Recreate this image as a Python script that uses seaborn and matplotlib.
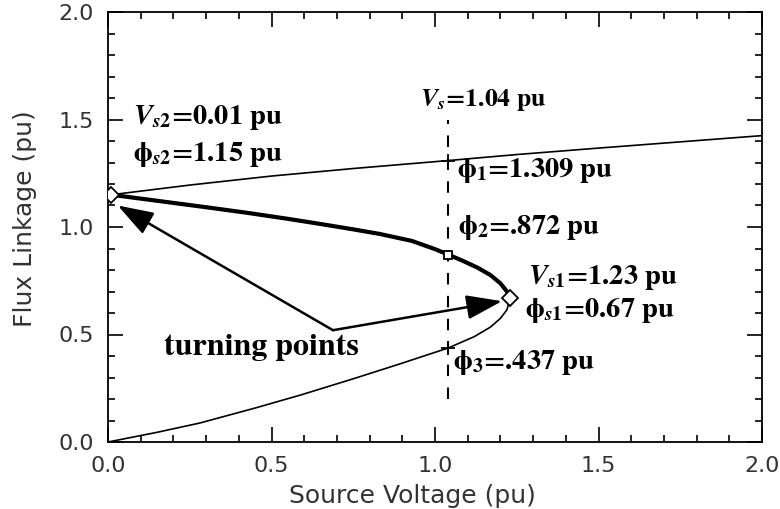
import matplotlib
matplotlib.use("Agg")
import matplotlib.pyplot as plt
from matplotlib.patches import FancyArrowPatch
from matplotlib.ticker import MultipleLocator
import seaborn as sns

# Upper (high-flux) branch
upper_v = [0.01, 0.25, 0.50, 0.75, 1.04, 1.25, 1.50, 1.75, 2.00]
upper_phi = [1.15, 1.195, 1.237, 1.272, 1.309, 1.337, 1.367, 1.396, 1.425]

# Middle (unstable) branch between the two turning points
middle_v = [0.01, 0.10, 0.20, 0.30, 0.43, 0.55, 0.65, 0.75, 0.83, 0.93,
            1.00, 1.04, 1.08, 1.13, 1.17, 1.20, 1.22, 1.23]
middle_phi = [1.15, 1.132, 1.112, 1.092, 1.065, 1.038, 1.014, 0.989, 0.968, 0.935,
              0.897, 0.872, 0.846, 0.811, 0.776, 0.738, 0.700, 0.670]

# Lower (normal operation) branch
lower_v = [0.00, 0.15, 0.28, 0.45, 0.59, 0.75, 0.89, 1.04, 1.12, 1.17, 1.20, 1.22, 1.23]
lower_phi = [0.00, 0.045, 0.088, 0.158, 0.219, 0.294, 0.362, 0.437, 0.490, 0.535,
             0.575, 0.615, 0.670]

# Operating point and turning points
vs_op = 1.04
phi_op = [1.309, 0.872, 0.437]
turn_v = [0.01, 1.23]
turn_phi = [1.15, 0.67]

x_ticks = [0.0, 0.5, 1.0, 1.5, 2.0]
x_tick_labels = ["0.0", "0.5", "1.0", "1.5", "2.0"]
y_ticks = [0.0, 0.5, 1.0, 1.5, 2.0]
y_tick_labels = ["0.0", "0.5", "1.0", "1.5", "2.0"]

sns.set_style("ticks")
plt.rcParams["font.family"] = ["DejaVu Sans"]
plt.rcParams["mathtext.fontset"] = "custom"
plt.rcParams["mathtext.rm"] = "STIXGeneral:bold"
plt.rcParams["mathtext.it"] = "STIXGeneral:italic:bold"
plt.rcParams["mathtext.bf"] = "STIXGeneral:bold"

fig = plt.figure(figsize=(7.8, 5.09), dpi=100)
ax = fig.add_axes([108 / 780, 1 - 442 / 509, (762 - 108) / 780, (442 - 12) / 509])

ink = "black"
sns.lineplot(x=upper_v, y=upper_phi, sort=False, estimator=None, ax=ax,
             color=ink, linewidth=1.2)
sns.lineplot(x=middle_v, y=middle_phi, sort=False, estimator=None, ax=ax,
             color=ink, linewidth=3.0)
sns.lineplot(x=lower_v, y=lower_phi, sort=False, estimator=None, ax=ax,
             color=ink, linewidth=1.2)

# Vertical dashed line at the source voltage of interest
ax.vlines(vs_op, 0.2, 1.5, colors=ink, linewidth=1.5, linestyles=(0, (5.5, 5.5)))

# Markers for the three solutions and the turning points
sns.scatterplot(x=[vs_op, vs_op], y=[phi_op[0], phi_op[2]], marker="+", s=110,
                color=ink, linewidth=1.3, ax=ax, zorder=5)
ax.plot([vs_op], [phi_op[1]], marker="s", ms=6, mfc="white", mec=ink, mew=1.3,
        ls="none", zorder=6)
ax.plot(turn_v, turn_phi, marker="D", ms=8, mfc="white", mec=ink, mew=1.3,
        ls="none", zorder=6)

# Arrows from the label to both turning points
for tip in [(0.03, 1.10), (1.205, 0.655)]:
    arr = FancyArrowPatch((0.688, 0.52), tip,
                          arrowstyle="-|>,head_length=2.2,head_width=0.75",
                          mutation_scale=10, color=ink, linewidth=1.8,
                          shrinkA=0, shrinkB=0, zorder=4)
    ax.add_patch(arr)

serif = dict(family="STIXGeneral", weight="bold", color=ink, va="center", ha="left")
ax.text(0.077, 1.51, r"$V_{s2}$=0.01 pu", fontsize=20.5, **serif)
ax.text(0.077, 1.335, r"$\mathrm{\phi}_{s2}$=1.15 pu", fontsize=20.5, **serif)
ax.text(0.955, 1.59, r"$V_s$=1.04 pu", fontsize=18.5, **serif)
ax.text(1.067, 1.265, r"$\mathrm{\phi}_1$=1.309 pu", fontsize=20.5, **serif)
ax.text(1.07, 1.00, r"$\mathrm{\phi}_2$=.872 pu", fontsize=20.5, **serif)
ax.text(1.284, 0.763, r"$V_{s1}$=1.23 pu", fontsize=20.5, **serif)
ax.text(1.275, 0.614, r"$\mathrm{\phi}_{s1}$=0.67 pu", fontsize=20.5, **serif)
ax.text(1.055, 0.372, r"$\mathrm{\phi}_3$=.437 pu", fontsize=20.5, **serif)
ax.text(0.468, 0.44, "turning points", family="STIXGeneral", weight="bold",
        fontsize=23, color=ink, va="center", ha="center")

ax.set_xlim(0, 2)
ax.set_ylim(0, 2)
ax.set_xticks(x_ticks, x_tick_labels)
ax.set_yticks(y_ticks, y_tick_labels)
ax.xaxis.set_minor_locator(MultipleLocator(0.1))
ax.yaxis.set_minor_locator(MultipleLocator(0.1))
ax.tick_params(which="both", direction="in", top=True, right=True, color=ink,
               labelsize=16, labelcolor="#333333", pad=10)
ax.tick_params(which="major", length=11, width=1.2)
ax.tick_params(which="minor", length=5, width=1.2)
for sp in ax.spines.values():
    sp.set_linewidth(1.3)
    sp.set_color(ink)

ax.set_xlabel("Source Voltage (pu)", fontsize=18, color="#333333")
ax.set_ylabel("Flux Linkage (pu)", fontsize=18, color="#333333")
ax.xaxis.set_label_coords(0.465, -0.097)
ax.yaxis.set_label_coords(-0.108, 0.52)

fig.savefig("out.png", dpi=100)
